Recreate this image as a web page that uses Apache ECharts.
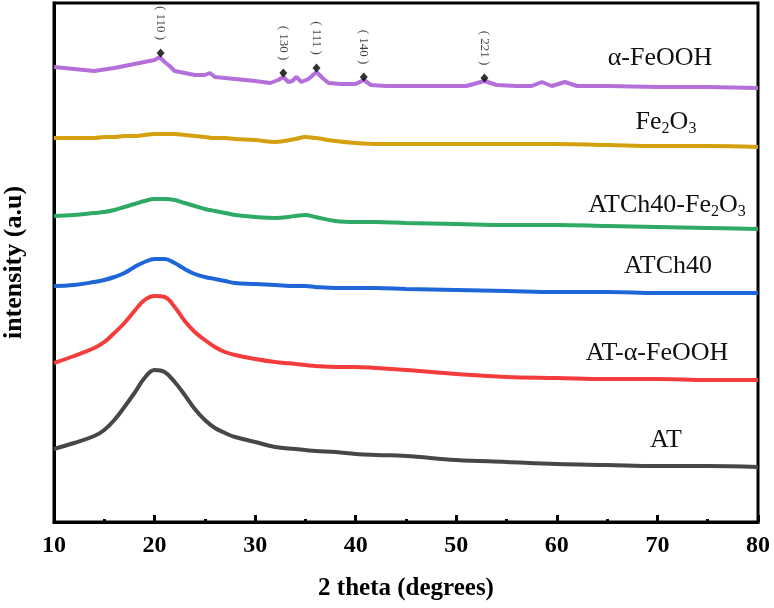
<!DOCTYPE html>
<html>
<head>
<meta charset="utf-8">
<script src="https://cdn.jsdelivr.net/npm/echarts@6/dist/echarts.min.js"></script>
<style>html,body{margin:0;padding:0;background:#fff;}#c{width:774px;height:608px;}</style>
</head>
<body>
<div id="c"></div>
<script>
// ---- data (2θ in degrees, intensity in arbitrary units) ----
const xTicks = [10, 20, 30, 40, 50, 60, 70, 80];
const twoTheta = [10,12,14,15,16,17,18,19,20,21,22,23,24,25,26,27,28,30,32,34,35,36,38,40,42,45,50,55,60,65,70,75,80];
const AT        = [73,79,86,92,102,115,129,144,152,150,140,127,113,102,94,89,85,80,75,73,72,71,70,68,67,66,62,60,58,57,56,56,55];
const AT_FeOOH  = [159,166,174,180,189,199,211,222,226,225,215,201,190,182,175,170,167,163,160,158,157,156,155,155,154,152,148,145,144,143,143,142,142];
const ATCh40    = [236,237,240,242,245,249,255,260,263,263,259,253,248,245,243,241,239,238,237,236,236,235,234,234,234,233,232,231,230,230,229,229,229];
const ATCh40_Fe2O3 = [306,307,309,310,312,315,318,321,323,323,322,319,316,313,311,309,307,305,304,306,307,305,301,300,300,299,298,297,297,296,295,294,293];
const Fe2O3     = [384,384,384,385,385,386,386,387,388,388,388,387,386,385,384,384,383,382,380,383,385,384,381,379,378,378,378,378,378,377,376,376,375];
const twoThetaFeOOH = [10,12,14,16,18,19,20,20.5,21,21.5,22,23,24,25,25.5,26,27,28,30,31.5,32.3,32.8,33.3,33.7,34.1,34.6,35.3,36.1,36.7,37.3,38.5,40,40.8,41.5,43,45,48,51,52.8,54,56,57.5,58.5,59.5,60.8,62,65,70,75,80];
const FeOOH     = [455,453,451,454,458,460,462,465,460,456,451,449,447,447,449,445,444,443,441,439,442,445,440,441,445,440,443,450,444,439,438,438,442,437,436,436,436,436,441,437,436,436,440,436,440,436,436,435,435,434];
const peakTheta  = [20.6, 32.8, 36.1, 40.8, 52.8];
const peakHeight = [469, 449, 454, 445, 444];
const peakLabels = ['( 110 )', '( 130 )', '( 111 )', '( 140 )', '( 221 )'];

const SERIF = '"Liberation Serif", "Times New Roman", serif';
const pairs = (xs, ys) => xs.map((x, i) => [x, ys[i]]);

function lineSeries(name, xs, ys, color, smooth) {
  return {
    name, type: 'line', data: pairs(xs, ys), showSymbol: false, smooth: smooth,
    lineStyle: { color, width: 4 }, itemStyle: { color }, z: 2
  };
}

const chart = echarts.init(document.getElementById('c'), null, { renderer: 'canvas' });

function label(text, x, y) {
  return {
    type: 'text', x, y, z: 10,
    style: {
      text, x: 0, y: 0, align: 'center', verticalAlign: 'middle',
      fill: '#111',
      rich: {
        n: { fontFamily: SERIF, fontSize: 26, lineHeight: 30, fill: '#111' },
        s: { fontFamily: SERIF, fontSize: 16, lineHeight: 30, padding: [14, 0, 0, 0], fill: '#111' }
      }
    }
  };
}

chart.setOption({
  animation: false,
  backgroundColor: '#fff',
  grid: { left: 54, right: 16, top: 3, bottom: 86, show: true, borderColor: '#000', borderWidth: 3,
          backgroundColor: 'transparent', containLabel: false, outerBoundsMode: 'none' },
  xAxis: {
    type: 'value', min: xTicks[0], max: xTicks[xTicks.length - 1], interval: 10,
    axisLine: { show: true, lineStyle: { color: '#000', width: 3 } },
    axisTick: { show: true, inside: true, length: 7, lineStyle: { color: '#000', width: 3 } },
    minorTick: { show: true, splitNumber: 2, length: 3, lineStyle: { color: '#000', width: 3 } },
    splitLine: { show: false },
    axisLabel: { color: '#000', fontFamily: SERIF, fontWeight: 'bold', fontSize: 24, margin: 12 },
    name: '2 theta (degrees)', nameLocation: 'middle', nameGap: 54,
    nameTextStyle: { color: '#000', fontFamily: SERIF, fontWeight: 'bold', fontSize: 25 }
  },
  yAxis: {
    type: 'value', min: 0, max: 519,
    axisLine: { show: true, lineStyle: { color: '#000', width: 3 } },
    axisTick: { show: false }, axisLabel: { show: false }, splitLine: { show: false },
    name: 'intensity (a.u)', nameLocation: 'middle', nameGap: 27, nameRotate: 90,
    nameTextStyle: { color: '#000', fontFamily: SERIF, fontWeight: 'bold', fontSize: 26 }
  },
  series: [
    lineSeries('AT', twoTheta, AT, '#474747', 0.4),
    lineSeries('AT-α-FeOOH', twoTheta, AT_FeOOH, '#f43c3c', 0.4),
    lineSeries('ATCh40', twoTheta, ATCh40, '#1f66d8', 0.4),
    lineSeries('ATCh40-Fe2O3', twoTheta, ATCh40_Fe2O3, '#2faa65', 0.4),
    lineSeries('Fe2O3', twoTheta, Fe2O3, '#d4a00f', 0.4),
    lineSeries('α-FeOOH', twoThetaFeOOH, FeOOH, '#b56fdb', false),
    {
      name: 'peaks', type: 'scatter', symbol: 'diamond', symbolSize: [8, 9],
      itemStyle: { color: '#000' }, z: 5,
      data: peakTheta.map((x, i) => ({ value: [x, peakHeight[i]], label: { formatter: peakLabels[i] } })),
      label: {
        show: true, position: 'inside', rotate: -90, offset: [-30, 0],
        fontFamily: SERIF, fontSize: 13, color: '#111', align: 'center', verticalAlign: 'middle'
      }
    }
  ],
  graphic: [
    label('{n|α-FeOOH}', 660, 58),
    label('{n|Fe}{s|2}{n|O}{s|3}', 666, 122),
    label('{n|ATCh40-Fe}{s|2}{n|O}{s|3}', 667, 205),
    label('{n|ATCh40}', 668, 266),
    label('{n|AT-α-FeOOH}', 657, 353),
    label('{n|AT}', 666, 440)
  ]
});
</script>
</body>
</html>
